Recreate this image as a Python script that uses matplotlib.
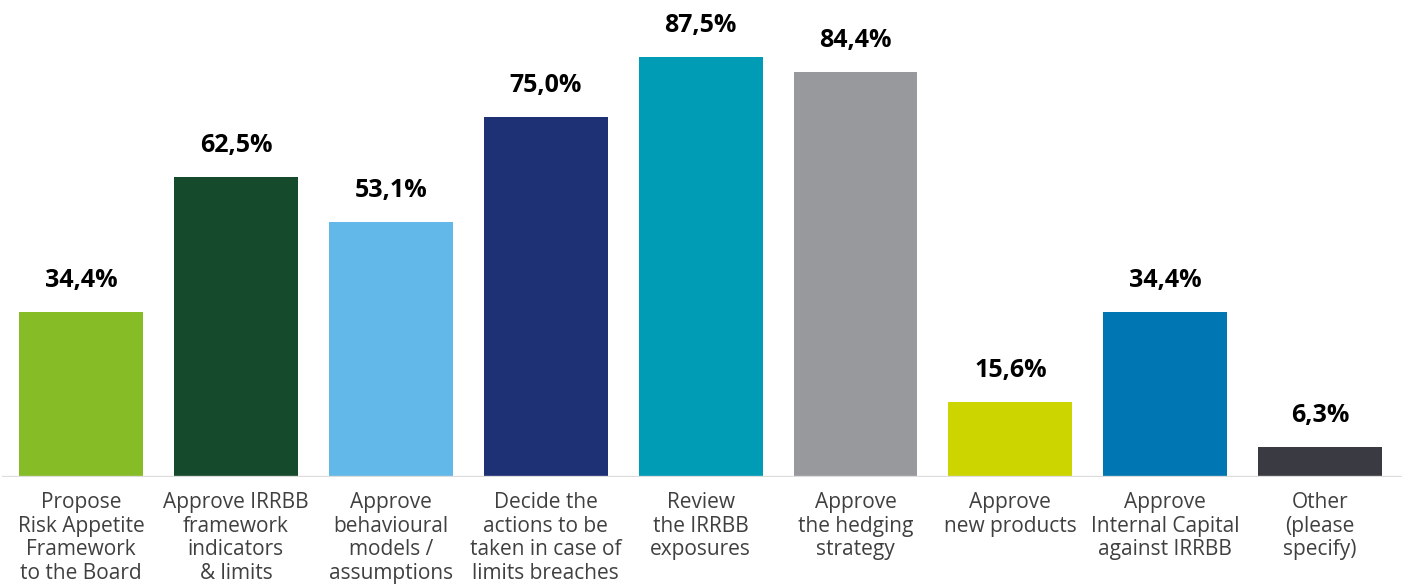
import matplotlib
matplotlib.use("Agg")
import matplotlib.pyplot as plt

plt.rcParams['font.family'] = ['Open Sans', 'DejaVu Sans']

# dados
categorias = [
    "Propose\nRisk Appetite\nFramework\nto the Board",
    "Approve IRRBB\nframework\nindicators\n& limits",
    "Approve\nbehavioural\nmodels /\nassumptions",
    "Decide the\nactions to be\ntaken in case of\nlimits breaches",
    "Review\nthe IRRBB\nexposures",
    "Approve\nthe hedging\nstrategy",
    "Approve\nnew products",
    "Approve\nInternal Capital\nagainst IRRBB",
    "Other\n(please\nspecify)",
]
valores = [34.4, 62.5, 53.1, 75.0, 87.5, 84.4, 15.6, 34.4, 6.3]
cores = ["#86BC25", "#154A2C", "#62B8E8", "#1E3175", "#009CB6",
         "#97999C", "#CDD500", "#0076B3", "#3A3A42"]

fig = plt.figure(figsize=(14.02, 5.85), dpi=100)
ax = fig.add_axes([0, 0.185, 1, 0.815])

x = range(len(valores))
ax.bar(x, valores, width=0.8, color=cores, zorder=2)

for i, v in zip(x, valores):
    rotulo = f"{v:.1f}%".replace(".", ",")
    ax.annotate(rotulo, (i, v), xytext=(0, 22.5), textcoords="offset points",
                ha="center", va="center", fontsize=18, fontweight="bold",
                color="black")
    ax.annotate(categorias[i], (i, 0), xytext=(0, -11), textcoords="offset points",
                ha="center", va="top", fontsize=15, color="#404040",
                linespacing=1.17, annotation_clip=False)

ax.axhline(0, xmin=0.002, xmax=1, color="#DCDCDC", linewidth=2.4, zorder=3)

ax.set_xlim(-0.523, 8.528)
ax.set_ylim(0, 99.4)
ax.axis("off")

fig.savefig("out.png", dpi=100)
